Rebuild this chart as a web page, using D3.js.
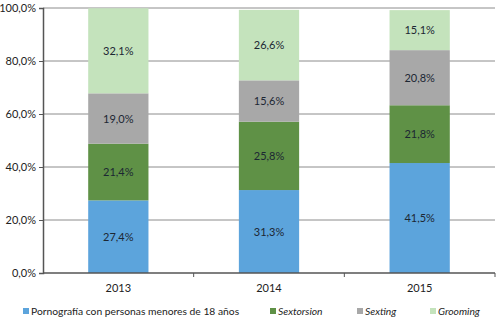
<!DOCTYPE html>
<html>
<head>
<meta charset="utf-8">
<script src="https://cdn.jsdelivr.net/npm/d3@7"></script>
<style>
  body { margin: 0; background: #fff; }
  svg { font-family: Lato, "DejaVu Sans", sans-serif; }
</style>
</head>
<body>
<svg id="chart" width="499" height="319"></svg>
<script>
// Chart data
const years = ['2013', '2014', '2015'];
const seriesNames = ['Pornografía con personas menores de 18 años', 'Sextorsion', 'Sexting', 'Grooming'];
const pornografia = [27.4, 31.3, 41.5];
const sextorsion = [21.4, 25.8, 21.8];
const sexting = [19.0, 15.6, 20.8];
const grooming = [32.1, 26.6, 15.1];
const yTicks = [0, 20, 40, 60, 80, 100];

const seriesValues = [pornografia, sextorsion, sexting, grooming];
const colors = ['#5ca4dc', '#5f9146', '#a8a8a8', '#c4e3bc'];
const italic = [false, true, true, true];

const svg = d3.select('#chart');
const margin = { left: 43, right: 4, top: 8, bottom: 46 };
const width = 499, height = 319;

// Build rows for the stack
let rows = years.map((y, i) => {
  let r = { year: y };
  seriesNames.forEach((s, j) => { r[s] = seriesValues[j][i]; });
  return r;
});
let stacked = d3.stack().keys(seriesNames)(rows);

let x = d3.scaleBand()
  .domain(years)
  .range([margin.left, width - margin.right])
  .paddingInner(0.6)
  .paddingOuter(0.3);

let xOuter = d3.scaleBand()
  .domain(years)
  .range([margin.left, width - margin.right]);

let y = d3.scaleLinear()
  .domain([0, 100])
  .range([height - margin.bottom, margin.top]);

let fmt = v => d3.format('.1f')(v).replace('.', ',') + '%';

// Gridlines
svg.append('g')
  .selectAll('line')
  .data(yTicks.filter(d => d > 0))
  .join('line')
  .attr('x1', margin.left)
  .attr('x2', width - margin.right)
  .attr('y1', d => y(d))
  .attr('y2', d => y(d))
  .attr('stroke', '#8c8c8c')
  .attr('stroke-width', 1);

// Bars
let layers = svg.append('g')
  .selectAll('g')
  .data(stacked)
  .join('g')
  .attr('fill', (d, i) => colors[i]);

layers.selectAll('rect')
  .data(d => d)
  .join('rect')
  .attr('x', d => x(d.data.year))
  .attr('width', x.bandwidth())
  .attr('y', d => y(d[1]))
  .attr('height', d => y(d[0]) - y(d[1]));

// Value labels
layers.selectAll('text')
  .data(d => d.map(v => ({ v: v, val: v[1] - v[0] })))
  .join('text')
  .attr('x', d => x(d.v.data.year) + x.bandwidth() / 2)
  .attr('y', d => (y(d.v[0]) + y(d.v[1])) / 2 + 4)
  .attr('text-anchor', 'middle')
  .attr('font-size', 11)
  .attr('fill', '#1c2733')
  .text(d => fmt(d.val));

// Y axis
let yAxis = svg.append('g')
  .attr('transform', `translate(${margin.left},0)`)
  .call(d3.axisLeft(y).tickValues(yTicks).tickSize(4).tickFormat(fmt));
yAxis.select('.domain').attr('stroke', '#555').attr('stroke-width', 1.5);
yAxis.selectAll('.tick line').attr('stroke', '#555');
yAxis.selectAll('.tick text')
  .attr('font-size', 11)
  .attr('font-family', 'Lato, "DejaVu Sans", sans-serif')
  .attr('fill', '#222')
  .attr('x', -7);

// X axis
let xAxisY = y(0);
svg.append('line')
  .attr('x1', margin.left)
  .attr('x2', width - margin.right)
  .attr('y1', xAxisY)
  .attr('y2', xAxisY)
  .attr('stroke', '#555')
  .attr('stroke-width', 1.5);

svg.append('g')
  .selectAll('line')
  .data(years)
  .join('line')
  .attr('x1', d => xOuter(d) + xOuter.bandwidth())
  .attr('x2', d => xOuter(d) + xOuter.bandwidth())
  .attr('y1', xAxisY)
  .attr('y2', xAxisY + 4)
  .attr('stroke', '#555');

svg.append('g')
  .selectAll('text')
  .data(years)
  .join('text')
  .attr('x', d => x(d) + x.bandwidth() / 2)
  .attr('y', xAxisY + 19)
  .attr('text-anchor', 'middle')
  .attr('font-size', 11)
  .attr('fill', '#222')
  .text(d => d);

// Legend
const legendX = [23, 270, 357, 430];
let legend = svg.append('g')
  .selectAll('g')
  .data(seriesNames)
  .join('g')
  .attr('transform', (d, i) => `translate(${legendX[i]},315)`);

legend.append('rect')
  .attr('x', 0)
  .attr('y', -7)
  .attr('width', 6)
  .attr('height', 6)
  .attr('fill', (d, i) => colors[i]);

legend.append('text')
  .attr('x', 8)
  .attr('y', 0)
  .attr('font-size', 10.3)
  .attr('fill', '#222')
  .attr('font-style', (d, i) => italic[i] ? 'italic' : 'normal')
  .text(d => d);
</script>
</body>
</html>
